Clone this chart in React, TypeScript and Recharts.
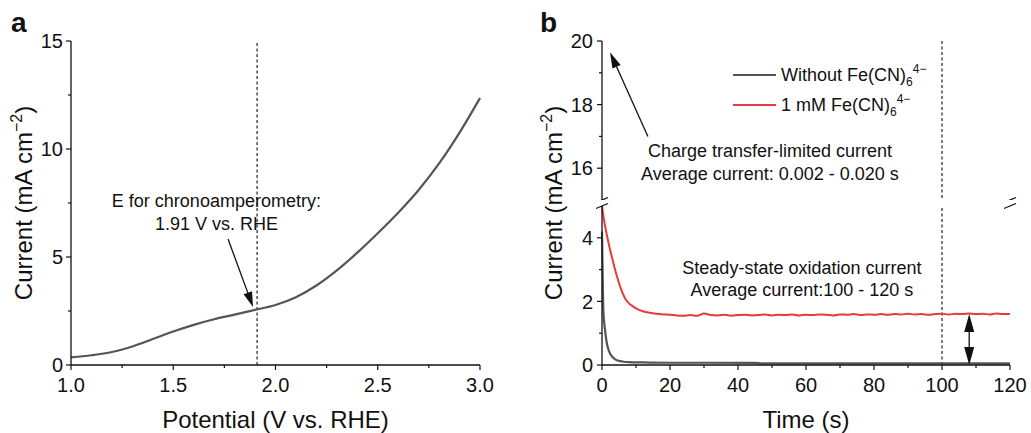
import React from 'react';
import { LineChart, Line, XAxis, YAxis, ReferenceLine, ReferenceDot, Legend } from 'recharts';

const FONT = '"Liberation Sans", Arial, sans-serif';
const INK = '#111';
const GRAY = '#555';
const RED = '#e8393c';

// ---- panel a: LSV ----
const POTENTIAL = [1.0, 1.1, 1.2, 1.3, 1.4, 1.5, 1.6, 1.7, 1.8, 1.9, 2.0, 2.1, 2.2, 2.3, 2.4, 2.5, 2.6, 2.7, 2.8, 2.9, 3.0];
const CURRENT_A = [0.35, 0.45, 0.6, 0.86, 1.2, 1.55, 1.86, 2.12, 2.33, 2.55, 2.78, 3.14, 3.68, 4.38, 5.2, 6.1, 7.05, 8.1, 9.33, 10.76, 12.36];
const A_X_TICKS = [1, 1.25, 1.5, 1.75, 2, 2.25, 2.5, 2.75, 3];
const A_X_MAJOR = [1, 1.5, 2, 2.5, 3];
const A_Y_TICKS = [0, 2.5, 5, 7.5, 10, 12.5, 15];
const A_Y_MAJOR = [0, 5, 10, 15];
const E_CHRONO = 1.91;

// ---- panel b: chronoamperometry ----
const BLACK_T = [0, 0.2, 0.4, 0.9, 1.4, 2, 3, 4, 5, 6, 8, 12, 20, 30, 45, 47, 60, 80, 100, 120];
const BLACK_J = [4.2, 2.8, 1.7, 1.1, 0.7, 0.45, 0.26, 0.17, 0.13, 0.11, 0.09, 0.08, 0.07, 0.07, 0.065, 0.05, 0.05, 0.05, 0.05, 0.05];
const RED_T_EARLY = [0, 0.5, 1, 1.5, 2, 2.5, 3, 3.7, 4.7, 5.5, 7, 8, 9, 10, 12, 14, 16, 18];
const RED_J_EARLY = [5.0, 4.62, 4.32, 4.05, 3.8, 3.57, 3.36, 3.06, 2.68, 2.42, 2.06, 1.93, 1.85, 1.78, 1.69, 1.64, 1.61, 1.59];
const PLATEAU_T = [20, 22, 24, 26, 28, 30, 32, 34, 36, 38, 40, 42, 44, 46, 48, 50, 52, 54, 56, 58, 60, 62, 64, 66, 68, 70, 72, 74, 76, 78, 80, 82, 84, 86, 88, 90, 92, 94, 96, 98, 100, 102, 104, 106, 108, 110, 112, 114, 116, 118, 120];
const PLATEAU_J = [1.58, 1.56, 1.55, 1.57, 1.55, 1.62, 1.57, 1.56, 1.58, 1.55, 1.57, 1.58, 1.56, 1.57, 1.59, 1.56, 1.58, 1.57, 1.59, 1.56, 1.58, 1.57, 1.59, 1.58, 1.56, 1.59, 1.58, 1.6, 1.57, 1.59, 1.58, 1.6, 1.58, 1.6, 1.59, 1.61, 1.59, 1.6, 1.58, 1.6, 1.61, 1.59, 1.61, 1.6, 1.62, 1.6, 1.61, 1.59, 1.62, 1.6, 1.6];
const B_X_TICKS = [0, 10, 20, 30, 40, 50, 60, 70, 80, 90, 100, 110, 120];
const B_X_MAJOR = [0, 20, 40, 60, 80, 100, 120];
const B_LOW_TICKS = [0, 1, 2, 3, 4];
const B_LOW_MAJOR = [0, 2, 4];
const B_HIGH_TICKS = [16, 17, 18, 19, 20];
const B_HIGH_MAJOR = [16, 18, 20];
const SERIES_NAMES = ['Without Fe(CN)_6^4−', '1 mM Fe(CN)_6^4−'];

const aData = POTENTIAL.map((v, i) => ({ v, j: CURRENT_A[i] }));
const blackData = BLACK_T.map((t, i) => ({ t, j: BLACK_J[i] }));
const redData = RED_T_EARLY.concat(PLATEAU_T).map((t, i) => ({ t, j: RED_J_EARLY.concat(PLATEAU_J)[i] }));

const isMajor = (list: number[], v: number) => list.some((m) => Math.abs(m - v) < 1e-6);

function bottomTick(major: number[], fmt: (v: number) => string) {
  return (props: any) => {
    const { x, y, payload } = props;
    const big = isMajor(major, payload.value);
    return (
      <g>
        <line x1={x} x2={x} y1={y} y2={y + (big ? 5 : 3)} stroke={INK} strokeWidth={1.2} />
        {big && (
          <text x={x} y={y + 27} textAnchor="middle" fontSize={20} fontFamily={FONT} fill={INK}>
            {fmt(payload.value)}
          </text>
        )}
      </g>
    );
  };
}

function leftTick(major: number[], gap: number) {
  return (props: any) => {
    const { x, y, payload } = props;
    const big = isMajor(major, payload.value);
    return (
      <g>
        <line x1={x - (big ? 5 : 3)} x2={x} y1={y} y2={y} stroke={INK} strokeWidth={1.2} />
        {big && (
          <text x={x - gap} y={y} dy="0.36em" textAnchor="end" fontSize={20} fontFamily={FONT} fill={INK}>
            {payload.value}
          </text>
        )}
      </g>
    );
  };
}

function yTitle(cx: number, cy: number) {
  return () => (
    <text transform={`rotate(-90 ${cx} ${cy})`} x={cx} y={cy} textAnchor="middle" fontSize={24} fontFamily={FONT} fill={INK}>
      <tspan>Current (mA cm</tspan>
      <tspan fontSize={16} dy={-10}>−2</tspan>
      <tspan dy={10}>)</tspan>
    </text>
  );
}

function note(lines: string[]) {
  return (p: any) => (
    <text x={p.cx} y={p.cy} textAnchor="middle" fontSize={18} fontFamily={FONT} fill={INK}>
      {lines.map((l, i) => (
        <tspan key={i} x={p.cx} dy={i === 0 ? 0 : 22.5}>
          {l}
        </tspan>
      ))}
    </text>
  );
}

function arrow(head: number, halfW: number, both: boolean) {
  return (p: any) => {
    const { x1, y1, x2, y2 } = p;
    const len = Math.hypot(x2 - x1, y2 - y1) || 1;
    const ux = (x2 - x1) / len;
    const uy = (y2 - y1) / len;
    const tri = (tx: number, ty: number, dx: number, dy: number) => {
      const bx = tx - dx * head;
      const by = ty - dy * head;
      return `${tx},${ty} ${bx - dy * halfW},${by + dx * halfW} ${bx + dy * halfW},${by - dx * halfW}`;
    };
    const sx = both ? x1 + ux * head * 0.8 : x1;
    const sy = both ? y1 + uy * head * 0.8 : y1;
    return (
      <g>
        <line x1={sx} y1={sy} x2={x2 - ux * head * 0.8} y2={y2 - uy * head * 0.8} stroke={INK} strokeWidth={1.3} />
        <polygon points={tri(x2, y2, ux, uy)} fill={INK} />
        {both && <polygon points={tri(x1, y1, -ux, -uy)} fill={INK} />}
      </g>
    );
  };
}

const breakMark = (p: any) => (
  <line x1={p.cx - 6} y1={p.cy + 2.5} x2={p.cx + 6} y2={p.cy - 2.5} stroke={INK} strokeWidth={1.3} />
);

function formatName(name: string) {
  const [main, rest] = name.split('_');
  const [sub, sup] = rest.split('^');
  return (
    <>
      {main}
      <span style={{ fontSize: 12, verticalAlign: -5 }}>{sub}</span>
      <span style={{ fontSize: 12, verticalAlign: 8 }}>{sup}</span>
    </>
  );
}

const renderLegend = (props: any) => {
  const items = [...(props.payload || [])].sort(
    (a: any, b: any) => SERIES_NAMES.indexOf(a.value) - SERIES_NAMES.indexOf(b.value)
  );
  return (
    <div style={{ fontFamily: FONT, fontSize: 18, color: INK }}>
      {items.map((item: any) => (
        <div key={item.value} style={{ display: 'flex', alignItems: 'center', height: 30, whiteSpace: 'nowrap' }}>
          <span style={{ display: 'inline-block', width: 43, borderTop: `2.5px solid ${item.color}`, marginRight: 5 }} />
          <span>{formatName(item.value)}</span>
        </div>
      ))}
    </div>
  );
};

const axisLine = { stroke: INK, strokeWidth: 1.3 };
const dash = { stroke: '#333', strokeWidth: 1.3, strokeDasharray: '3 2.5' };

function PanelA() {
  return (
    <LineChart width={520} height={433} data={aData} margin={{ top: 41, right: 40, left: 0, bottom: 0 }}>
      <XAxis
        dataKey="v"
        type="number"
        domain={[1, 3]}
        ticks={A_X_TICKS}
        interval={0}
        tickSize={0}
        tickMargin={0}
        tickLine={false}
        axisLine={axisLine}
        tick={bottomTick(A_X_MAJOR, (v) => v.toFixed(1))}
        height={68}
        label={{ value: 'Potential (V vs. RHE)', position: 'insideBottom', offset: 5, fontSize: 24, fontFamily: FONT, fill: INK }}
      />
      <XAxis xAxisId="top" orientation="top" type="number" domain={[1, 3]} height={0} tick={false} tickLine={false} axisLine={axisLine} />
      <YAxis
        type="number"
        domain={[0, 15]}
        ticks={A_Y_TICKS}
        interval={0}
        tickSize={0}
        tickMargin={0}
        tickLine={false}
        axisLine={axisLine}
        tick={leftTick(A_Y_MAJOR, 8)}
        width={71}
        label={yTitle(32, 203)}
      />
      <YAxis yAxisId="right" orientation="right" type="number" domain={[0, 15]} width={0} tick={false} tickLine={false} axisLine={axisLine} />
      <ReferenceLine x={E_CHRONO} {...dash} />
      <Line type="monotone" dataKey="j" stroke={GRAY} strokeWidth={2.2} dot={false} isAnimationActive={false} />
      <ReferenceLine segment={[{ x: 1.768, y: 5.83 }, { x: 1.89, y: 2.69 }]} ifOverflow="visible" shape={arrow(15, 4.5, false)} />
      <ReferenceDot x={1.711} y={7.31} r={0} ifOverflow="visible" shape={note(['E for chronoamperometry:', '1.91 V vs. RHE'])} />
    </LineChart>
  );
}

function PanelBLow() {
  return (
    <LineChart width={511} height={433} margin={{ top: 206, right: 21, left: 0, bottom: 0 }}>
      <XAxis
        dataKey="t"
        type="number"
        domain={[0, 120]}
        ticks={B_X_TICKS}
        interval={0}
        tickSize={0}
        tickMargin={0}
        tickLine={false}
        axisLine={axisLine}
        tick={bottomTick(B_X_MAJOR, (v) => String(v))}
        height={68}
        label={{ value: 'Time (s)', position: 'insideBottom', offset: 5, fontSize: 24, fontFamily: FONT, fill: INK }}
      />
      <YAxis
        type="number"
        domain={[0, 5]}
        ticks={B_LOW_TICKS}
        interval={0}
        tickSize={0}
        tickMargin={0}
        tickLine={false}
        axisLine={axisLine}
        tick={leftTick(B_LOW_MAJOR, 9)}
        width={82}
        allowDataOverflow
        label={yTitle(42, 203)}
      />
      <YAxis yAxisId="right" orientation="right" type="number" domain={[0, 5]} width={0} tick={false} tickLine={false} axisLine={axisLine} />
      <ReferenceLine x={100} {...dash} />
      <Line data={blackData} name={SERIES_NAMES[0]} type="monotone" dataKey="j" stroke={GRAY} strokeWidth={2.2} dot={false} isAnimationActive={false} />
      <Line data={redData} name={SERIES_NAMES[1]} type="monotone" dataKey="j" stroke={RED} strokeWidth={2} dot={false} isAnimationActive={false} />
      <ReferenceLine segment={[{ x: 108, y: 0 }, { x: 108, y: 1.6 }]} ifOverflow="visible" shape={arrow(18, 5, true)} />
      <ReferenceDot x={58.8} y={2.87} r={0} ifOverflow="visible" shape={note(['Steady-state oxidation current', 'Average current:100 - 120 s'])} />
      <ReferenceDot x={0} y={5} r={0} ifOverflow="visible" shape={breakMark} />
      <ReferenceDot x={120} y={5} r={0} ifOverflow="visible" shape={breakMark} />
    </LineChart>
  );
}

function PanelBHigh() {
  return (
    <LineChart width={511} height={200} margin={{ top: 41, right: 21, left: 0, bottom: 0 }}>
      <XAxis dataKey="t" orientation="top" type="number" domain={[0, 120]} height={0} tick={false} tickLine={false} axisLine={axisLine} />
      <YAxis
        type="number"
        domain={[15, 20]}
        ticks={B_HIGH_TICKS}
        interval={0}
        tickSize={0}
        tickMargin={0}
        tickLine={false}
        axisLine={axisLine}
        tick={leftTick(B_HIGH_MAJOR, 9)}
        width={82}
        allowDataOverflow
      />
      <YAxis yAxisId="right" orientation="right" type="number" domain={[15, 20]} width={0} tick={false} tickLine={false} axisLine={axisLine} />
      <ReferenceLine x={100} {...dash} />
      <Line data={blackData} name={SERIES_NAMES[0]} type="monotone" dataKey="j" stroke={GRAY} strokeWidth={2.2} dot={false} isAnimationActive={false} />
      <Line data={redData} name={SERIES_NAMES[1]} type="monotone" dataKey="j" stroke={RED} strokeWidth={2} dot={false} isAnimationActive={false} />
      <Legend
        content={renderLegend}
        layout="horizontal"
        verticalAlign="middle"
        align="center"
        wrapperStyle={{ left: 213, top: 60, width: 280 }}
      />
      <ReferenceLine segment={[{ x: 13.5, y: 17.0 }, { x: 2.35, y: 19.65 }]} ifOverflow="visible" shape={arrow(16, 4.5, false)} />
      <ReferenceDot x={49.4} y={16.35} r={0} ifOverflow="visible" shape={note(['Charge transfer-limited current', 'Average current: 0.002 - 0.020 s'])} />
      <ReferenceDot x={0} y={15} r={0} ifOverflow="visible" shape={breakMark} />
      <ReferenceDot x={120} y={15} r={0} ifOverflow="visible" shape={breakMark} />
    </LineChart>
  );
}

export default function App() {
  return (
    <div style={{ position: 'absolute', left: 0, top: 0, width: 1031, height: 433, background: '#fff', fontFamily: FONT }}>
      <div style={{ position: 'absolute', left: 0, top: 0 }}>
        <PanelA />
      </div>
      <div style={{ position: 'absolute', left: 520, top: 0 }}>
        <PanelBLow />
      </div>
      <div style={{ position: 'absolute', left: 520, top: 0 }}>
        <PanelBHigh />
      </div>
      <svg width={1031} height={433} style={{ position: 'absolute', left: 0, top: 0, pointerEvents: 'none' }}>
        <text x={11} y={32} fontSize={28} fontWeight="bold" fontFamily={FONT} fill={INK}>a</text>
        <text x={540} y={32} fontSize={28} fontWeight="bold" fontFamily={FONT} fill={INK}>b</text>
      </svg>
    </div>
  );
}
